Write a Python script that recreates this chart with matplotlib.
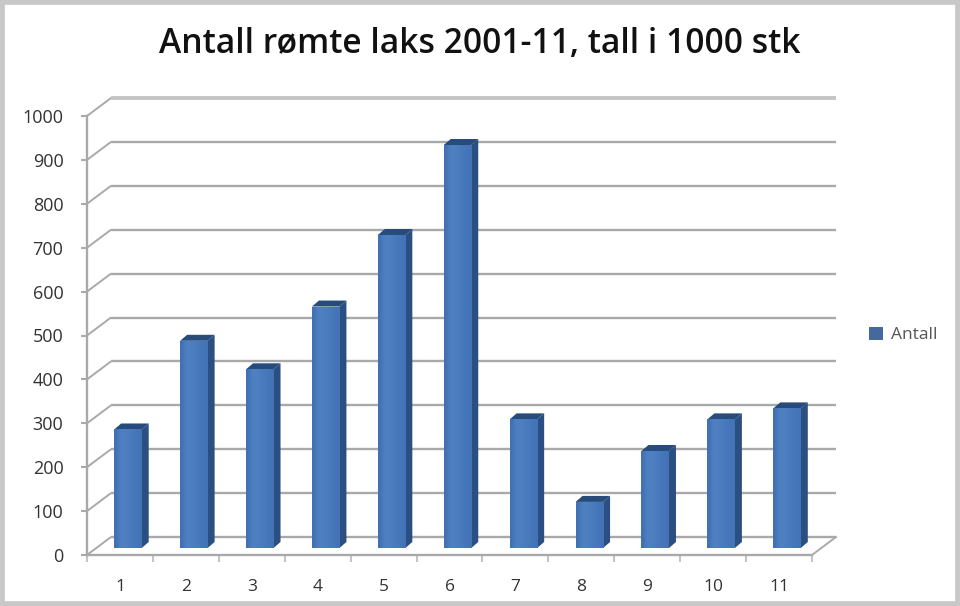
import numpy as np
import matplotlib
matplotlib.use('Agg')
import matplotlib.pyplot as plt
from matplotlib.patches import Polygon, Rectangle

years = ['1', '2', '3', '4', '5', '6', '7', '8', '9', '10', '11']
antall = [270, 472, 407, 550, 713, 918, 293, 105, 221, 293, 318]
y_ticks = [0, 100, 200, 300, 400, 500, 600, 700, 800, 900, 1000]

W, H = 960, 606
left, right, bottom, top = 87, 812, 555, 116
cat_px = (right - left) / len(years)
val_px = (bottom - top) / 1000

# pixel offsets for the fake 3d look, turned into data units
wall_dx, wall_dy = 24 / cat_px, 18 / val_px
base_dx, base_dy = 8 / cat_px, 7 / val_px
bar_dx, bar_dy = 7 / cat_px, 6 / val_px
bar_w = 27.5 / cat_px

grid_col = '#a9a9a9'
text_col = '#333333'

plt.rcParams['font.family'] = ['Open Sans', 'DejaVu Sans']

fig = plt.figure(figsize=(W / 100, H / 100), dpi=100, facecolor='white')
ax = fig.add_axes([left / W, 1 - bottom / H, (right - left) / W, (bottom - top) / H])
ax.set_xlim(0.5, len(years) + 0.5)
ax.set_ylim(0, 1000)

x0, x1 = ax.get_xlim()
for v in y_ticks:
    lw = 2.8 if v == 1000 else 1.7
    col = '#c4c4c4' if v == 1000 else grid_col
    ax.plot([x0, x0 + wall_dx], [v, v + wall_dy], color=grid_col, lw=1.4,
            clip_on=False, zorder=1, solid_capstyle='butt')
    ax.plot([x0 + wall_dx, x1 + wall_dx], [v + wall_dy, v + wall_dy], color=col, lw=lw,
            clip_on=False, zorder=1, solid_capstyle='butt')
ax.plot([x1, x1 + wall_dx], [0, wall_dy], color=grid_col, lw=1.4, clip_on=False, zorder=1)

xs = np.arange(1, len(years) + 1) + base_dx
bars = ax.bar(xs, antall, width=bar_w, bottom=base_dy, color='#3f72b8', zorder=3,
              label='Antall', clip_on=False)

grad = np.array([[0.35, 0.9, 1.0, 0.85, 0.7, 0.55, 0.45]])
cmap = matplotlib.colors.LinearSegmentedColormap.from_list('bar', ['#3a6aae', '#4f80c2'])
for x, v, rect in zip(xs, antall, bars):
    xl, xr = x - bar_w / 2, x + bar_w / 2
    yb, yt = base_dy, base_dy + v
    im = ax.imshow(grad, cmap=cmap, vmin=0, vmax=1, aspect='auto', zorder=3.1,
                   extent=[xl, xr, yb, yt], interpolation='bilinear')
    im.set_clip_path(rect)
    ax.add_patch(Polygon([[xr, yb], [xr + bar_dx, yb + bar_dy], [xr + bar_dx, yt + bar_dy], [xr, yt]],
                         facecolor='#2b4f80', edgecolor='none', zorder=3, clip_on=False))
    ax.add_patch(Polygon([[xl, yt], [xl + bar_dx, yt + bar_dy], [xr + bar_dx, yt + bar_dy], [xr, yt]],
                         facecolor='#274b7a', edgecolor='none', zorder=3, clip_on=False))
ax.set_xlim(x0, x1)
ax.set_ylim(0, 1000)

for s in ['top', 'right']:
    ax.spines[s].set_visible(False)
for s in ['left', 'bottom']:
    ax.spines[s].set_color(grid_col)
    ax.spines[s].set_linewidth(1.7)
ax.patch.set_alpha(0)

ax.set_yticks(y_ticks)
ax.set_yticklabels([str(v) for v in y_ticks], fontsize=13, color=text_col)
ax.set_xticks(np.arange(0.5, len(years) + 1))
ax.set_xticklabels([])
ax.set_xticks(np.arange(1, len(years) + 1), minor=True)
ax.set_xticklabels(years, minor=True, fontsize=12.5, color=text_col)
ax.tick_params(axis='y', length=4, width=1.5, color=grid_col, pad=13)
ax.tick_params(axis='x', which='major', length=5, width=1.5, color='#c4c4c4')
ax.tick_params(axis='x', which='minor', length=0, pad=17)

fig.text(480 / W, 1 - 44 / H, 'Antall rømte laks 2001-11, tall i 1000 stk', ha='center', va='center',
         fontsize=24.2, fontweight='semibold', color='#111111', family=['Open Sans', 'DejaVu Sans'])

leg = fig.legend(handles=[bars], labels=['Antall'], loc='center left', frameon=False,
                 bbox_to_anchor=(853 / W, 1 - 335 / H), fontsize=12.5, handlelength=0.85,
                 handleheight=0.85, handletextpad=0.45, labelcolor='#555555')
for h in leg.legend_handles:
    h.set_facecolor('#44699f')

# grey frame round the picture
fig.add_artist(Rectangle((0, 0), 1, 1, transform=fig.transFigure, fill=False,
                         edgecolor='#c8c8c8', linewidth=7))

fig.savefig('out.png', dpi=100)
